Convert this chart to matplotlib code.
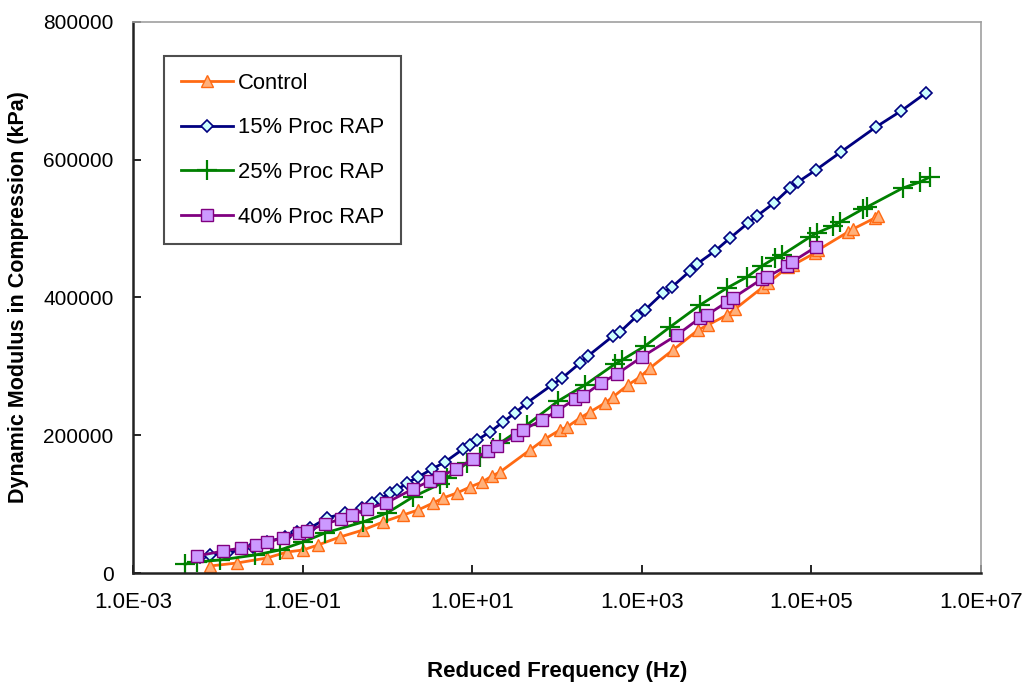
import matplotlib
matplotlib.use("Agg")
import matplotlib.pyplot as plt

# Reduced frequency (Hz) and dynamic modulus (kPa)
freq_ctrl = [8.1e-3, 1.68e-2, 3.8e-2, 6.55e-2, 0.101, 0.152, 0.276, 0.515, 0.887, 1.53,
             2.3, 3.45, 4.53, 6.62, 9.42, 13.1, 17.1, 21.3, 48, 72, 108, 131, 187, 245,
             368, 457, 687, 952, 1250, 2330, 4600, 6040, 10100, 12600, 26900, 30800,
             53000, 60700, 110000, 120000, 270000, 310000, 562000, 610000]
mod_ctrl = [10200, 14500, 21800, 30500, 33400, 40700, 52300, 62400, 74100, 84200,
            91500, 101600, 108900, 116200, 124900, 132100, 140800, 146700, 178600, 194600,
            207600, 212000, 225100, 233800, 246800, 255600, 273000, 284600, 297700, 323800,
            352800, 360100, 374600, 383300, 415300, 421100, 444300, 447200, 464600, 469000,
            495100, 499500, 515500, 518400]

freq_15 = [6.2e-3, 8.1e-3, 1.3e-2, 2.6e-2, 3.8e-2, 6.2e-2, 8.6e-2, 0.122, 0.194, 0.316,
           0.50, 0.66, 0.82, 1.07, 1.30, 1.70, 2.30, 3.36, 4.78, 7.8, 9.4, 11.4, 16.2,
           23.1, 32, 44, 87, 115, 187, 232, 457, 553, 877, 1090, 1780, 2270, 3700, 4480,
           7300, 11000, 17900, 22800, 36200, 56000, 69500, 113000, 223000, 578000,
           1.14e6, 2.24e6]
mod_15 = [23200, 26100, 29000, 37800, 45000, 52300, 59500, 65300, 79900, 87100,
          94400, 101600, 107400, 116200, 120500, 130700, 139400, 151000, 161200, 180000,
          185900, 193100, 204700, 219300, 232300, 246800, 273000, 283100, 304900, 315100,
          344100, 349900, 373200, 381900, 406600, 415300, 438500, 448700, 467500, 486400,
          508200, 518400, 537200, 559000, 567700, 585200, 611300, 647600, 670800, 697000]

freq_25 = [4.1e-3, 5.7e-3, 1.06e-2, 2.75e-2, 5.4e-2, 0.101, 0.184, 0.515, 0.99, 2.0,
           4.17, 5.05, 8.7, 12.4, 17.6, 21.3, 44, 103, 214, 483, 585, 1090, 2150, 4850,
           10100, 17400, 26100, 37200, 45000, 96200, 116000, 180000, 217000, 405000,
           453000, 1.2e6, 1.91e6, 2.5e6]
mod_25 = [13000, 16000, 18900, 26100, 33400, 45000, 58100, 74100, 87100, 110400,
          129200, 137900, 159700, 168400, 181500, 188800, 214900, 249700, 273000, 303500,
          309300, 329600, 357200, 389100, 413800, 429800, 445800, 457400, 461700, 487900,
          493700, 503800, 509700, 528500, 531400, 559000, 567700, 575000]

freq_40 = [5.7e-3, 1.15e-2, 1.88e-2, 2.82e-2, 3.8e-2, 5.87e-2, 9.08e-2, 0.113, 0.184,
           0.284, 0.383, 0.574, 0.96, 2.0, 3.18, 4.06, 6.44, 10.2, 15.3, 19.6, 33.7,
           39.7, 66.5, 100, 163, 203, 330, 510, 1000, 2600, 4850, 5870, 10100, 11900,
           26100, 29900, 51500, 59000, 113000]
mod_40 = [24700, 31900, 36300, 40700, 45000, 50800, 58100, 61000, 71100, 78400, 84200,
          92900, 101600, 122000, 133600, 139400, 151000, 165500, 177100, 184400, 200400,
          207600, 222200, 235200, 252600, 257000, 275900, 289000, 313600, 345600, 370300,
          374600, 393500, 399300, 426900, 429800, 445800, 451600, 473400]

x_ticks = [1e-3, 1e-1, 1e1, 1e3, 1e5, 1e7]
x_tick_labels = ["1.0E-03", "1.0E-01", "1.0E+01", "1.0E+03", "1.0E+05", "1.0E+07"]
y_ticks = [0, 200000, 400000, 600000, 800000]

plt.rcParams['font.family'] = ['Liberation Sans', 'DejaVu Sans']

fig = plt.figure(figsize=(10.28, 6.85), dpi=100)
ax = fig.add_axes([0.1294, 0.1635, 0.8249, 0.8044])

ax.plot(freq_ctrl, mod_ctrl, color='#FF6A13', lw=2, marker='^', ms=8,
        mfc='#FFB07A', mec='#FF6A13', mew=1, label='Control')
ax.plot(freq_15, mod_15, color='#000080', lw=2, marker='D', ms=6,
        mfc='#CCFFFF', mec='#000080', mew=1.2, label='15% Proc RAP')
ax.plot(freq_25, mod_25, color='#008000', lw=2, marker='+', ms=14,
        mew=1.6, label='25% Proc RAP')
ax.plot(freq_40, mod_40, color='#800080', lw=2, marker='s', ms=8,
        mfc='#CC99FF', mec='#800080', mew=1, label='40% Proc RAP')

ax.set_xscale('log')
ax.set_xlim(1e-3, 1e7)
ax.set_ylim(0, 800000)
ax.set_xticks(x_ticks)
ax.set_xticklabels(x_tick_labels)
ax.minorticks_off()
ax.set_yticks(y_ticks)
ax.set_yticklabels([str(v) for v in y_ticks])
ax.tick_params(direction='in', length=6, width=1.2, labelsize=15, pad=14)
for t in ax.get_xticklabels():
    t.set_fontsize(16)

for s in ['left', 'bottom']:
    ax.spines[s].set_color('#222222')
    ax.spines[s].set_linewidth(1.8)
for s in ['top', 'right']:
    ax.spines[s].set_color('#A0A0A0')
    ax.spines[s].set_linewidth(1.2)

ax.set_xlabel('Reduced Frequency (Hz)', fontsize=16, fontweight='bold', labelpad=34)
ax.set_ylabel('Dynamic Modulus in Compression (kPa)', fontsize=15.5, fontweight='bold', labelpad=10)

leg = ax.legend(loc='upper left', bbox_to_anchor=(0.024, 0.958), fontsize=15.8,
                frameon=True, fancybox=False, edgecolor='#222222', labelspacing=1.08,
                handlelength=2.4, handletextpad=0.2, borderpad=0.75)
leg.get_frame().set_linewidth(1.5)

fig.savefig('out.png', dpi=100)
